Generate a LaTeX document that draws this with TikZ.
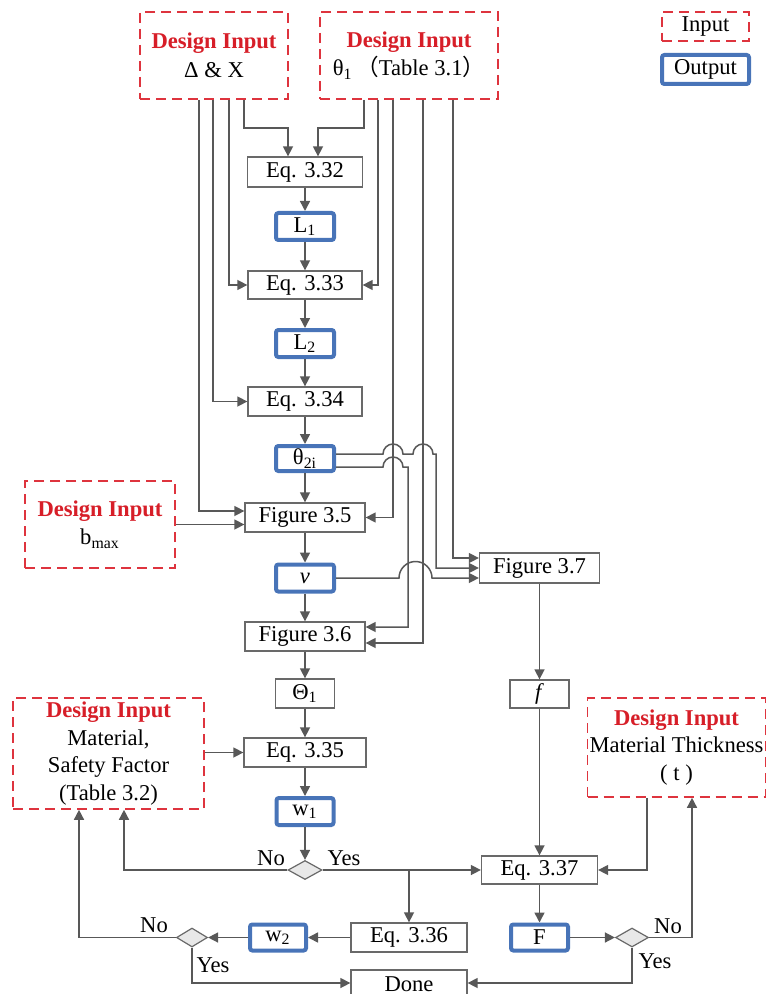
\documentclass[tikz,border=0pt]{standalone}
\usepackage{fontspec}
\setmainfont{Liberation Serif}
\newfontfamily\cjk{Noto Sans CJK SC}
\usetikzlibrary{arrows.meta,shapes.geometric,calc}
\definecolor{inred}{RGB}{222,52,62}
\definecolor{txtred}{RGB}{215,30,40}
\definecolor{outblue}{RGB}{72,116,184}
\definecolor{conncol}{RGB}{88,88,88}
\definecolor{boxgray}{RGB}{105,105,105}
\definecolor{dfill}{RGB}{232,232,232}
\newcommand{\hdr}{\textcolor{txtred}{\textbf{Design Input}}}
\tikzset{
  every node/.style={font=\fontsize{11.3}{14.3}\selectfont, inner sep=0pt},
  pbox/.style={draw=boxgray, line width=0.65pt, fill=white},
  obox/.style={draw=outblue, line width=2pt, rounded corners=1.2pt, fill=white},
  ibox/.style={draw=inred, line width=0.8pt, dash pattern=on 5pt off 3pt, align=center, fill=white},
  dec/.style={diamond, draw=boxgray, fill=dfill, line width=0.6pt},
  conn/.style={draw=conncol, line width=0.75pt, -{Triangle[length=5pt,width=5pt]}},
  sz/.style 2 args={minimum width=#1pt, minimum height=#2pt},
}
\begin{document}
\begin{tikzpicture}[x=0.5pt,y=-0.5pt]
\useasboundingbox (0,0) rectangle (768,994);
% column coordinates
\coordinate (k199) at (199,0);
\coordinate (k213) at (213,0);
\coordinate (k229) at (229,0);
\coordinate (k244) at (244,0);
\coordinate (k364) at (364,0);
\coordinate (k378) at (378,0);
\coordinate (k393) at (393,0);
\coordinate (k423) at (423,0);
\coordinate (k453) at (453,0);
% input boxes
\node[ibox, sz={74}{43.5}] (din1) at (214,55.5) {\hdr\\Δ \& X};
\node[ibox, sz={89}{43.5}] (din2) at (409,55.5) {\hdr\\θ\textsubscript{1}\,{\cjk （}Table 3.1{\cjk ）}};
\node[ibox, sz={75}{43.5}] (bmax) at (100,524.5) {\hdr\\b\textsubscript{max}};
\node[ibox, sz={95.5}{55.5}, font=\fontsize{11.3}{13.8}\selectfont] (mat) at (108.5,753.5) {\hdr\\Material,\\Safety Factor\\(Table 3.2)};
\node[ibox, sz={89}{49.5}, font=\fontsize{11.3}{13.8}\selectfont] (mt) at (676.5,747.5) {\hdr\\Material Thickness\\( t )};
% legend
\node[ibox, sz={43.5}{14.5}] (legin) at (705.5,26.5) {Input};
\node[obox, sz={43.5}{14.5}] (legout) at (705.5,69.5) {Output};
% main column
\node[pbox, sz={57.5}{15}] (eq32) at (305,172) {Eq. 3.32};
\node[obox, sz={29}{13.5}] (L1) at (305,226.5) {L\textsubscript{1}};
\node[pbox, sz={57}{14}] (eq33) at (305,285) {Eq. 3.33};
\node[obox, sz={29}{13.5}] (L2) at (305,343.5) {L\textsubscript{2}};
\node[pbox, sz={57}{14.5}] (eq34) at (305,401.5) {Eq. 3.34};
\node[obox, sz={29}{12.5}] (th2i) at (305,458.5) {θ\textsubscript{2i}};
\node[pbox, sz={60}{14.5}] (fig35) at (305,517.5) {Figure 3.5};
\node[obox, sz={29}{13.5}] (nu) at (305,578) {\textit{ν}};
\node[pbox, sz={60}{14.5}] (fig36) at (305,636.5) {Figure 3.6};
\node[pbox, sz={29.5}{14.5}] (Th1) at (305,693.5) {Θ\textsubscript{1}};
\node[pbox, sz={61}{14.5}] (eq35) at (305,752.5) {Eq. 3.35};
\node[obox, sz={28.5}{13.5}] (w1) at (305,811.5) {w\textsubscript{1}};
\node[dec, sz={17}{9.5}] (d1) at (305,870) {};
\node[pbox, sz={58}{14.5}] (eq36) at (409,937.5) {Eq. 3.36};
\node[obox, sz={28}{13}] (w2) at (278,937.5) {w\textsubscript{2}};
\node[dec, sz={15.5}{9.5}] (d2) at (192,937.5) {};
\node[pbox, sz={58}{14.5}] (done) at (409,984.5) {Done};
% right column
\node[pbox, sz={60}{15}] (fig37) at (539.5,568) {Figure 3.7};
\node[pbox, sz={29.5}{14}] (f) at (539.5,694) {\textit{f}};
\node[pbox, sz={58}{14}] (eq37) at (539.5,870) {Eq. 3.37};
\node[obox, sz={28.5}{13}] (F) at (539.5,937.5) {F};
\node[dec, sz={16.5}{9.5}] (d3) at (632,937.5) {};
% labels
\node (no1) at (271,858) {No};
\node (yes1) at (344,858) {Yes};
\node (no2) at (154,925) {No};
\node (yes2) at (213,965) {Yes};
\node (no3) at (668,926) {No};
\node (yes3) at (655,961) {Yes};
% connectors from top inputs
\draw[conn] (din1.south -| k244) -- ++(0,28) -| ([xshift=-8.5pt]eq32.north);
\draw[conn] (din2.south -| k364) -- ++(0,28) -| ([xshift=6.5pt]eq32.north);
\draw[conn] (din1.south -| k229) |- (eq33.west);
\draw[conn] (din2.south -| k378) |- (eq33.east);
\draw[conn] (din1.south -| k213) |- (eq34.west);
\draw[conn] (din1.south -| k199) |- ([yshift=3.25pt]fig35.west);
\draw[conn] (bmax.east) -- (bmax.east -| fig35.west);
\draw[conn] (din2.south -| k393) |- (fig35.east);
\draw[conn] (din2.south -| k423) |- ([yshift=-3.25pt]fig36.east);
\draw[conn] (din2.south -| k453) |- ([yshift=5pt]fig37.west);
% theta2i outputs with jumps
\draw[conn] ([yshift=2.25pt]th2i.east) -- (383,454) arc[start angle=180,end angle=0,radius=5pt]
  -- (413,454) arc[start angle=180,end angle=0,radius=5pt] -- (436,454) |- (fig37.west);
\draw[conn] ([yshift=-4.25pt]th2i.east) -- (383,467) arc[start angle=180,end angle=0,radius=5pt]
  -- (408,467) |- ([yshift=4.75pt]fig36.east);
\draw[conn] (nu.east) -- (399,578) arc[start angle=180,end angle=0,radius=8.25pt] -- ([yshift=-5pt]fig37.west);
% main column
\draw[conn] (eq32) -- (L1);
\draw[conn] (L1) -- (eq33);
\draw[conn] (eq33) -- (L2);
\draw[conn] (L2) -- (eq34);
\draw[conn] (eq34) -- (th2i);
\draw[conn] (th2i) -- (fig35);
\draw[conn] (fig35) -- (nu);
\draw[conn] (nu) -- (fig36);
\draw[conn] (fig36) -- (Th1);
\draw[conn] (Th1) -- (eq35);
\draw[conn] (mat.east |- eq35.west) -- (eq35.west);
\draw[conn] (eq35) -- (w1);
\draw[conn] (w1) -- (d1);
\draw[conn] (d1.west) -| ([xshift=7.75pt]mat.south);
\draw[conn] (d1.east) -- (eq37.west);
\draw[conn] (eq36.north |- d1.east) -- (eq36.north);
\draw[conn] (eq36.west) -- (w2.east);
\draw[conn] (w2.west) -- (d2.east);
\draw[conn] (d2.west) -| ([xshift=-14.75pt]mat.south);
\draw[conn] (d2.south) |- ([yshift=0.75pt]done.west);
% right column
\draw[conn] (fig37) -- (f);
\draw[conn] (f) -- (eq37);
\draw[conn] ([xshift=-14.75pt]mt.south) |- (eq37.east);
\draw[conn] (eq37) -- (F);
\draw[conn] (F) -- (d3);
\draw[conn] (d3.east) -| ([xshift=7.75pt]mt.south);
\draw[conn] (d3.south) |- ([yshift=0.75pt]done.east);
\end{tikzpicture}
\end{document}
